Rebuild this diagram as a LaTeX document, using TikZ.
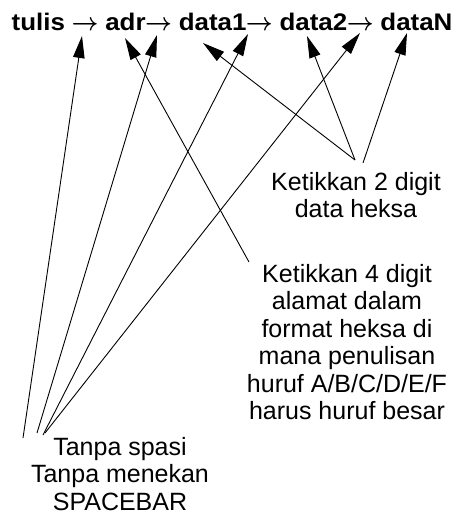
\documentclass[tikz,border=0pt]{standalone}
\usepackage{fontspec}
\setmainfont{Liberation Sans}
\usetikzlibrary{arrows.meta}
\newcommand{\toarr}{\makebox[1em][c]{\scalebox{0.87}[1]{\boldmath\(\rightarrow\)}}}
\begin{document}
\begin{tikzpicture}[x=1pt,y=-1pt,
  conn/.style={line width=0.9pt,-{Triangle[length=22pt,width=11.5pt]}},
  lbl/.style={inner sep=0pt,align=center,anchor=north,font=\fontsize{25}{27.5}\selectfont},
  headline/.style={inner sep=0pt,anchor=base west,font=\bfseries\fontsize{24}{28}\selectfont}]
\useasboundingbox (0,0) rectangle (459,519);
\node[headline] (top) at (11.5,30.5) {\scalebox{1.08}[1]{tulis \toarr{} adr\toarr{} data1\toarr{} data2\toarr{} dataN}};
\node[lbl] (dua) at (356,172) {Ketikkan 2 digit\\data heksa};
\node[lbl] (empat) at (347,264) {Ketikkan 4 digit\\alamat dalam\\format heksa di\\mana penulisan\\huruf A/B/C/D/E/F\\harus huruf besar};
\node[lbl] (tanpa) at (120,437) {Tanpa spasi\\Tanpa menekan\\SPACEBAR};
% tips
\coordinate (t1) at (82,36);
\coordinate (t2) at (157,35);
\coordinate (t3) at (248,34);
\coordinate (t4) at (360,33);
\coordinate (ta) at (125,38);
\coordinate (td1) at (203,43);
\coordinate (td2) at (307,36);
\coordinate (tdn) at (407,33);
% starts
\coordinate (s1) at (23,438);
\coordinate (s2) at (37,433);
\coordinate (s3) at (43,435);
\coordinate (s4) at (45,433);
\coordinate (sa) at (249,262);
\coordinate (sd) at (355,160);
\coordinate (sn) at (363,163);
\draw[conn] (s1) -- (t1);
\draw[conn] (s2) -- (t2);
\draw[conn] (s3) -- (t3);
\draw[conn] (s4) -- (t4);
\draw[conn] (sa) -- (ta);
\draw[conn] (sd) -- (td1);
\draw[conn] (sd) -- (td2);
\draw[conn] (sn) -- (tdn);
\end{tikzpicture}
\end{document}
